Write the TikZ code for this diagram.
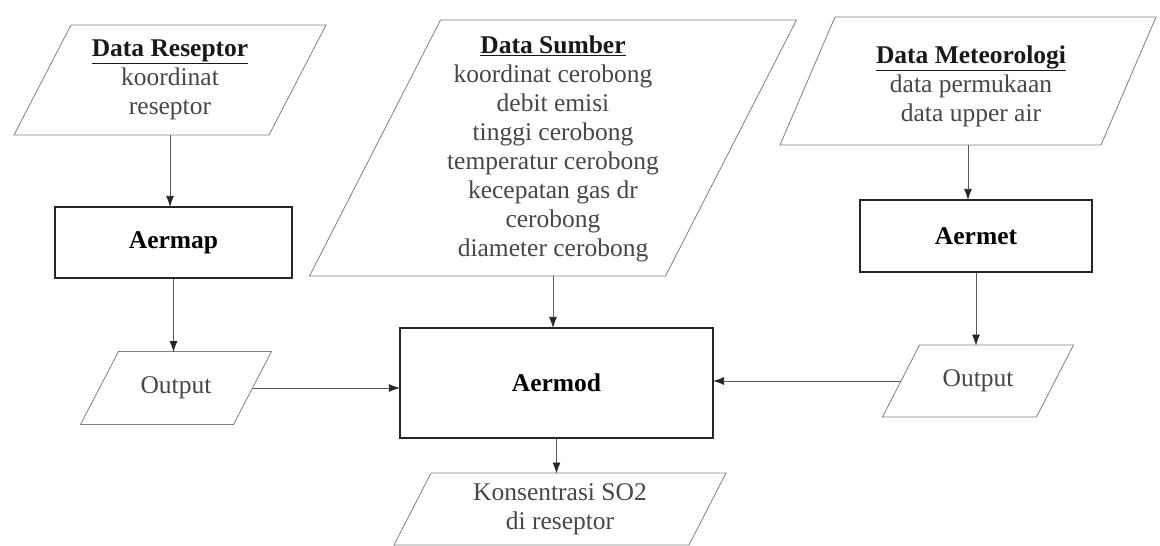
\documentclass[tikz,border=0pt]{standalone}
\usepackage{fontspec}
\setmainfont{Liberation Serif}
\usetikzlibrary{arrows.meta,calc}
\newcommand\drawpara[6]{% name, cx, cy, w, h, off
  \draw[para] (#2-#4/2+#6/2, #3-#5/2) -- (#2+#4/2+#6/2, #3-#5/2) -- (#2+#4/2-#6/2, #3+#5/2) -- (#2-#4/2-#6/2, #3+#5/2) -- cycle;
  \coordinate (#1-top) at (#2, #3-#5/2);
  \coordinate (#1-bot) at (#2, #3+#5/2);
  \coordinate (#1-l) at (#2-#4/2, #3);
  \coordinate (#1-r) at (#2+#4/2, #3);
}
\begin{document}
\begin{tikzpicture}[x=1pt,y=-1pt,
  font=\fontsize{25.5}{29}\selectfont,
  para/.style={draw=black!50, line width=0.8pt},
  box/.style={draw=black!85, line width=1.2pt, inner sep=0pt, font=\fontsize{25.5}{29}\selectfont\bfseries},
  txt/.style={align=center, text=black!72, inner sep=0pt},
  conn/.style={draw=black!65, line width=0.8pt, -{Latex[length=11pt,width=8pt,color=black!85]}, shorten >=-0.5pt}
]
\path[fill=white] (0,0) rectangle (1160,546);
\useasboundingbox (0,0) rectangle (1160,546);

% input parallelograms
\drawpara{resep}{170}{80}{255}{110}{57}
\node[txt] (resepT) at (170,80) {\textcolor{black!90}{\underline{\textbf{Data Reseptor}}}\\koordinat\\reseptor};

\drawpara{sumber}{553}{148}{356}{256}{131}
\node[txt] (sumberT) at (553,149) {\textcolor{black!90}{\underline{\textbf{Data Sumber}}}\\koordinat cerobong\\debit emisi\\tinggi cerobong\\temperatur cerobong\\kecepatan gas dr\\cerobong\\diameter cerobong};

\drawpara{meteo}{968}{81}{321}{128}{55}
\node[txt] (meteoT) at (971,86) {\textcolor{black!90}{\underline{\textbf{Data Meteorologi}}}\\data permukaan\\data upper air};

% process boxes
\node[box, minimum width=237pt, minimum height=71pt] (aermap) at (173.5,242.5) {Aermap};
\node[box, minimum width=232pt, minimum height=72pt] (aermet) at (976,236) {Aermet};
\node[box, minimum width=313pt, minimum height=110pt] (aermod) at (556.5,383) {Aermod};

% outputs
\drawpara{outL}{176}{388}{153}{73}{38}
\node[txt] (outLT) at (176,388) {Output};
\drawpara{outR}{978}{381}{154}{72}{37}
\node[txt] (outRT) at (978,381) {Output};
\drawpara{kons}{560}{509}{295}{72}{37}
\node[txt] (konsT) at (560,509) {Konsentrasi SO2\\di reseptor};

% connectors
\draw[conn] (resep-bot) -- (resep-bot |- aermap.north);
\draw[conn] (aermap.south) -- (aermap.south |- outL-top);
\draw[conn] (outL-r) -- (aermod.west |- outL-r);
\draw[conn] (sumber-bot) -- (sumber-bot |- aermod.north);
\draw[conn] (meteo-bot) -- (meteo-bot |- aermet.north);
\draw[conn] (aermet.south) -- (aermet.south |- outR-top);
\draw[conn] (outR-l) -- (aermod.east |- outR-l);
\draw[conn] (aermod.south) -- (aermod.south |- kons-top);
\end{tikzpicture}
\end{document}
